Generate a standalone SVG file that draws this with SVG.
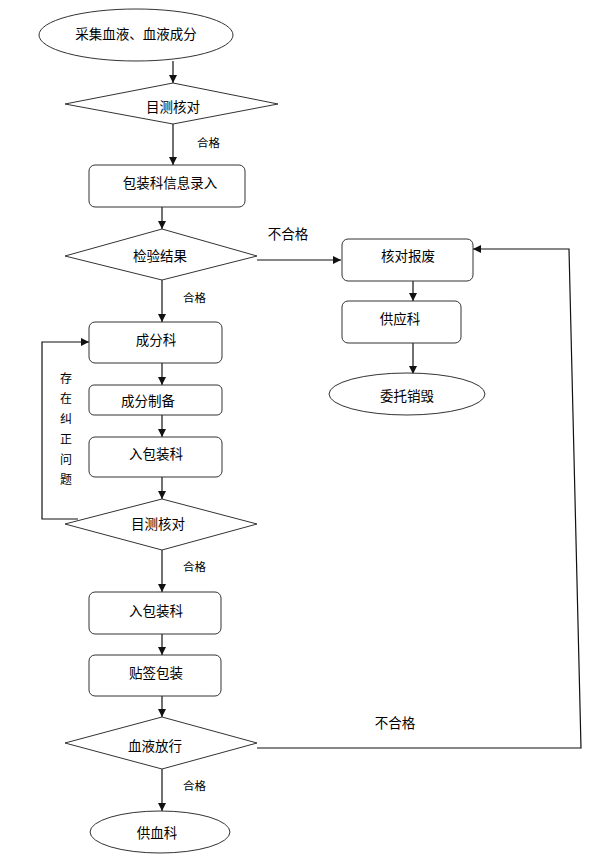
<svg xmlns="http://www.w3.org/2000/svg" width="598" height="860" viewBox="0 0 598 860">
<style>
.s{fill:#fff;stroke:#333;stroke-width:1}
.c{fill:none;stroke:#111;stroke-width:1.2}
text{font-family:"Noto Sans CJK SC","Noto Sans",sans-serif;font-size:13.5px;fill:#000;text-anchor:middle;dominant-baseline:central}
.l{font-size:11.5px;text-anchor:start}
.v{font-size:12px}
</style>
<defs>
<marker id="a" viewBox="0 0 10 10" refX="10" refY="5" markerWidth="8" markerHeight="8" markerUnits="userSpaceOnUse" orient="auto">
<path d="M0,0L10,5L0,10z" fill="#111"/>
</marker>
</defs>
<rect width="598" height="860" fill="#fff"/>
<g id="connectors">
<line class="c" x1="173" y1="61" x2="173" y2="83" marker-end="url(#a)"/>
<line class="c" x1="173" y1="124" x2="173" y2="165" marker-end="url(#a)"/>
<line class="c" x1="162" y1="207" x2="162" y2="229" marker-end="url(#a)"/>
<line class="c" x1="162" y1="280" x2="162" y2="322" marker-end="url(#a)"/>
<line class="c" x1="257" y1="260" x2="341" y2="260" marker-end="url(#a)"/>
<line class="c" x1="413" y1="281" x2="413" y2="301" marker-end="url(#a)"/>
<line class="c" x1="413" y1="343" x2="413" y2="374" marker-end="url(#a)"/>
<line class="c" x1="162" y1="363" x2="162" y2="385" marker-end="url(#a)"/>
<line class="c" x1="162" y1="415" x2="162" y2="437" marker-end="url(#a)"/>
<line class="c" x1="162" y1="477" x2="162" y2="499" marker-end="url(#a)"/>
<polyline class="c" points="78,519 42,519 42,342 89,342" marker-end="url(#a)"/>
<line class="c" x1="162" y1="550" x2="162" y2="592" marker-end="url(#a)"/>
<line class="c" x1="162" y1="634" x2="162" y2="655" marker-end="url(#a)"/>
<line class="c" x1="162" y1="696" x2="162" y2="717" marker-end="url(#a)"/>
<line class="c" x1="162" y1="769" x2="162" y2="811" marker-end="url(#a)"/>
<polyline class="c" points="257,748 581,748 569,249 473,249" marker-end="url(#a)"/>
<text class="l" x="197" y="142">合格</text>
<text class="l" x="183" y="297">合格</text>
<text x="288" y="233">不合格</text>
<text class="l" x="183" y="566">合格</text>
<text class="l" x="183" y="785">合格</text>
<text x="395" y="722">不合格</text>
<text class="v" x="66" y="377">存</text>
<text class="v" x="66" y="397">在</text>
<text class="v" x="66" y="417">纠</text>
<text class="v" x="66" y="438">正</text>
<text class="v" x="66" y="458">问</text>
<text class="v" x="66" y="478">题</text>
</g>
<g id="n1"><ellipse class="s" cx="136" cy="35" rx="97" ry="26"/><text x="136" y="33">采集血液、血液成分</text></g>
<g id="n2"><polygon class="s" points="173,83 278,104 173,124 65,104"/><text x="173" y="106">目测核对</text></g>
<g id="n3"><rect class="s" x="89" y="165" width="156" height="42" rx="6"/><text x="170" y="182">包装科信息录入</text></g>
<g id="n4"><polygon class="s" points="162,229 257,256 162,280 65,256"/><text x="160" y="255">检验结果</text></g>
<g id="n5"><rect class="s" x="342" y="239" width="131" height="42" rx="6"/><text x="408" y="255">核对报废</text></g>
<g id="n6"><rect class="s" x="342" y="301" width="119" height="42" rx="6"/><text x="400" y="318">供应科</text></g>
<g id="n7"><ellipse class="s" cx="407" cy="394" rx="78" ry="21"/><text x="407" y="395">委托销毁</text></g>
<g id="n8"><rect class="s" x="89" y="322" width="133" height="41" rx="6"/><text x="156" y="339">成分科</text></g>
<g id="n9"><rect class="s" x="89" y="385" width="133" height="30" rx="5"/><text x="148" y="400">成分制备</text></g>
<g id="n10"><rect class="s" x="89" y="437" width="133" height="40" rx="6"/><text x="156" y="453">入包装科</text></g>
<g id="n11"><polygon class="s" points="162,499 257,524 162,550 65,524"/><text x="158" y="523">目测核对</text></g>
<g id="n12"><rect class="s" x="89" y="592" width="132" height="42" rx="6"/><text x="156" y="610">入包装科</text></g>
<g id="n13"><rect class="s" x="89" y="655" width="132" height="41" rx="6"/><text x="156" y="672">贴签包装</text></g>
<g id="n14"><polygon class="s" points="162,717 257,743 162,769 65,743"/><text x="155" y="745">血液放行</text></g>
<g id="n15"><ellipse class="s" cx="160" cy="832" rx="70" ry="21"/><text x="157" y="832">供血科</text></g>
</svg>
